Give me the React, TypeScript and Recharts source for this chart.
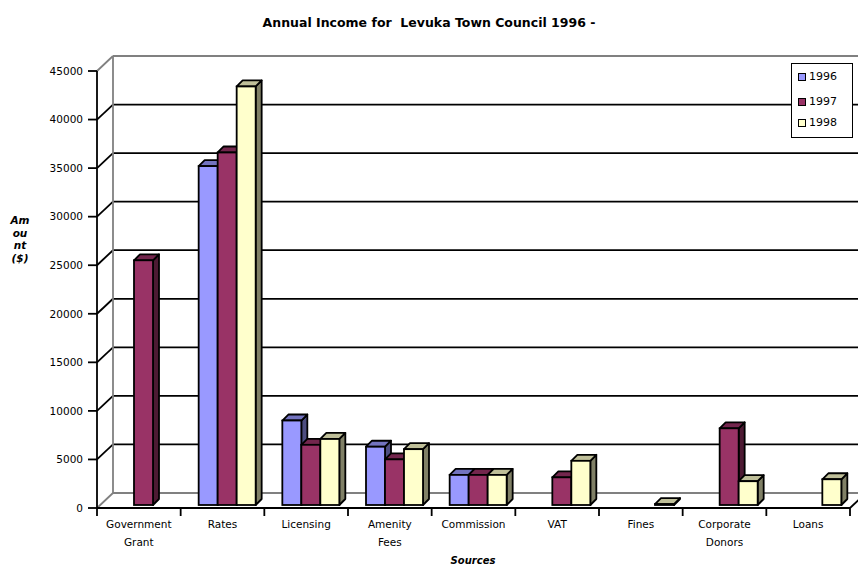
import { BarChart, Bar, XAxis, YAxis, CartesianGrid } from 'recharts';

const categories = [
  'Government\nGrant',
  'Rates',
  'Licensing',
  'Amenity\nFees',
  'Commission',
  'VAT',
  'Fines',
  'Corporate\nDonors',
  'Loans',
];

const income1996 = [null, 34900, 8700, 6000, 3100, null, null, null, null];
const income1997 = [25200, 36300, 6200, 4700, 3100, 2850, null, 7900, null];
const income1998 = [null, 43100, 6800, 5750, 3100, 4550, 100, 2450, 2650];

const yTicks = [0, 5000, 10000, 15000, 20000, 25000, 30000, 35000, 40000, 45000];

const series = [
  { key: 'y1996', name: '1996', values: income1996, color: '#9999FF', top: '#7373BF', side: '#4D4D80' },
  { key: 'y1997', name: '1997', values: income1997, color: '#993366', top: '#73264D', side: '#4D1A33' },
  { key: 'y1998', name: '1998', values: income1998, color: '#FFFFCC', top: '#BFBF99', side: '#808066' },
];

const data = categories.map((name, i) => ({
  name,
  y1996: income1996[i],
  y1997: income1997[i],
  y1998: income1998[i],
}));

const FONT = '"DejaVu Sans", "Liberation Sans", Arial, sans-serif';

// 3d look: back wall offset and bar depth
const WALL_DX = 16;
const WALL_DY = 15;
const BAR_SX = 5;
const BAR_SY = 3;
const BAR_D = 6;
const LINE_W = 1.8;

const makeBarShape = (s: (typeof series)[number]) => (p: any) => {
  const { x, y, width, height, payload } = p;
  if (x == null || y == null || payload?.[s.key] == null) return null;
  const bx = x + BAR_SX;
  const by = y - BAR_SY;
  const w = width;
  const h = Math.max(height, 0);
  const topPts = `${bx},${by} ${bx + BAR_D},${by - BAR_D} ${bx + w + BAR_D},${by - BAR_D} ${bx + w},${by}`;
  const sidePts = `${bx + w},${by} ${bx + w + BAR_D},${by - BAR_D} ${bx + w + BAR_D},${by + h - BAR_D} ${bx + w},${by + h}`;
  return (
    <g>
      <polygon points={sidePts} fill={s.side} stroke="#000" strokeWidth={LINE_W} strokeLinejoin="round" />
      <polygon points={topPts} fill={s.top} stroke="#000" strokeWidth={LINE_W} strokeLinejoin="round" />
      <rect x={bx} y={by} width={w} height={h} fill={s.color} stroke="#000" strokeWidth={LINE_W} />
    </g>
  );
};

const backWallLine = (p: any) => {
  const { x1, y1, x2 } = p;
  const top = p.y ?? 71;
  const bottom = top + (p.height ?? 437);
  const isTop = Math.abs(y1 - top) < 0.5;
  const isBottom = Math.abs(y1 - bottom) < 0.5;
  const col = isTop || isBottom ? '#808080' : '#000';
  return (
    <g key={p.key}>
      <line x1={x1} y1={y1} x2={x1 + WALL_DX} y2={y1 - WALL_DY} stroke={col} strokeWidth={LINE_W} />
      <line x1={x1 + WALL_DX} y1={y1 - WALL_DY} x2={x2 + WALL_DX} y2={y1 - WALL_DY} stroke={col} strokeWidth={LINE_W} />
      {isTop && (
        <line x1={x1 + WALL_DX} y1={y1 - WALL_DY} x2={x1 + WALL_DX} y2={bottom - WALL_DY} stroke="#808080" strokeWidth={LINE_W} />
      )}
      {isBottom && (
        <line x1={x2} y1={y1} x2={x2 + WALL_DX} y2={y1 - WALL_DY} stroke="#000" strokeWidth={LINE_W} />
      )}
    </g>
  );
};

const XTick = (p: any) => {
  const { x, y, payload, index, visibleTicksCount } = p;
  const half = payload?.offset || 41.8;
  const lines = String(payload.value).split('\n');
  const last = index === (visibleTicksCount ?? categories.length) - 1;
  return (
    <g>
      <line x1={x - half} y1={y} x2={x - half} y2={y + 8} stroke="#000" strokeWidth={LINE_W} />
      {last && <line x1={x + half} y1={y} x2={x + half} y2={y + 8} stroke="#000" strokeWidth={LINE_W} />}
      {lines.map((t, i) => (
        <text key={i} x={x} y={y + 20 + i * 18} textAnchor="middle" fontFamily={FONT} fontSize={10.5} fill="#000">
          {t}
        </text>
      ))}
    </g>
  );
};

export default function App() {
  return (
    <div
      style={{
        position: 'absolute',
        left: 0,
        top: 0,
        width: 858,
        height: 570,
        background: '#fff',
        overflow: 'hidden',
        fontFamily: FONT,
      }}
    >
      <div
        style={{
          position: 'absolute',
          top: 15,
          left: 0,
          width: 858,
          textAlign: 'center',
          fontSize: 12.5,
          fontWeight: 'bold',
          lineHeight: '16px',
          whiteSpace: 'pre',
        }}
      >
        Annual Income for  Levuka Town Council 1996 -
      </div>

      <BarChart
        width={858}
        height={570}
        data={data}
        margin={{ top: 71, right: 8, bottom: 22, left: 0 }}
        barSize={19}
        barGap={0}
      >
        <CartesianGrid horizontal={backWallLine} vertical={false} />
        <XAxis
          dataKey="name"
          height={40}
          interval={0}
          tickLine={false}
          tickSize={0}
          tickMargin={0}
          axisLine={{ stroke: '#000', strokeWidth: LINE_W }}
          tick={<XTick />}
        />
        <YAxis
          width={97}
          type="number"
          domain={[0, 45000]}
          ticks={yTicks}
          interval={0}
          tickSize={9}
          tickMargin={5}
          axisLine={{ stroke: '#000', strokeWidth: LINE_W }}
          tickLine={{ stroke: '#000', strokeWidth: LINE_W }}
          tick={{ fill: '#000', fontFamily: FONT, fontSize: 10.5 }}
        />
        {series.map((s) => (
          <Bar key={s.key} dataKey={s.key} name={s.name} shape={makeBarShape(s)} isAnimationActive={false} />
        ))}
      </BarChart>

      {/* y axis title, broken over lines as in the original */}
      <div
        style={{
          position: 'absolute',
          left: 0,
          top: 214,
          width: 40,
          textAlign: 'center',
          fontSize: 10.5,
          fontWeight: 'bold',
          fontStyle: 'italic',
          lineHeight: '12.5px',
        }}
      >
        {['Am', 'ou', 'nt', '($)'].map((t) => (
          <div key={t}>{t}</div>
        ))}
      </div>

      <div
        style={{
          position: 'absolute',
          left: 373,
          top: 554,
          width: 200,
          textAlign: 'center',
          fontSize: 10,
          fontWeight: 'bold',
          fontStyle: 'italic',
          lineHeight: '14px',
        }}
      >
        Sources
      </div>

      {/* legend */}
      <div
        style={{
          position: 'absolute',
          left: 791,
          top: 63,
          width: 62,
          height: 75,
          boxSizing: 'border-box',
          border: '1.5px solid #000',
          background: '#fff',
        }}
      >
        {series.map((s, i) => (
          <div
            key={s.key}
            style={{
              position: 'absolute',
              left: 6,
              top: [6, 31, 52][i],
              display: 'flex',
              alignItems: 'center',
              gap: 3,
              fontSize: 11,
              lineHeight: '14px',
            }}
          >
            <span
              style={{
                display: 'inline-block',
                width: 8,
                height: 8,
                boxSizing: 'border-box',
                border: '1px solid #000',
                background: s.color,
              }}
            />
            {s.name}
          </div>
        ))}
      </div>
    </div>
  );
}
